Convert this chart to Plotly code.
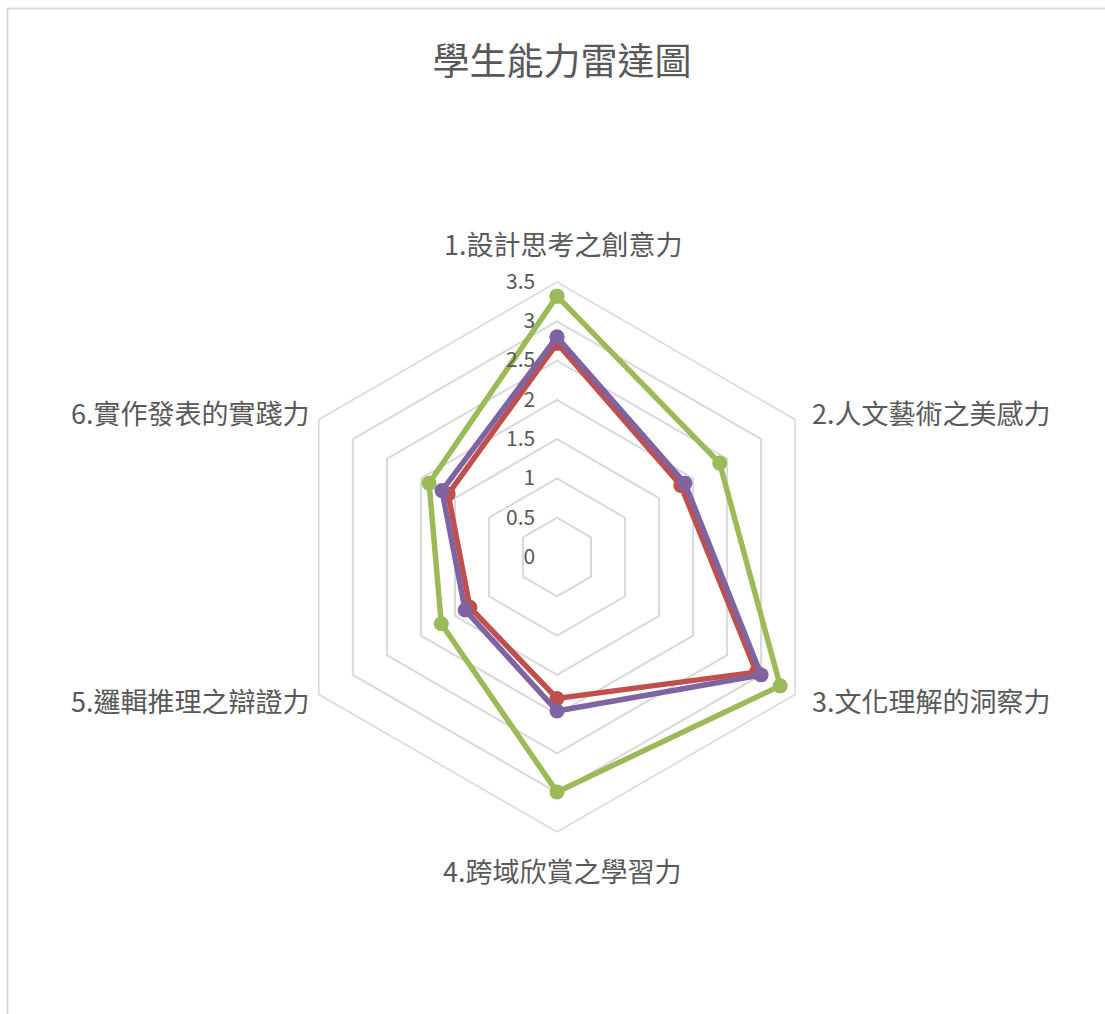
import plotly.graph_objects as go

categories = ["1.設計思考之創意力", "2.人文藝術之美感力", "3.文化理解的洞察力",
              "4.跨域欣賞之學習力", "5.邏輯推理之辯證力", "6.實作發表的實踐力"]
series_names = ["數列2", "數列3", "數列4"]
red_values = [2.72, 1.82, 2.93, 1.80, 1.28, 1.60]
green_values = [3.32, 2.39, 3.28, 2.99, 1.70, 1.88]
purple_values = [2.80, 1.88, 3.00, 1.96, 1.35, 1.69]
radial_ticks = [0, 0.5, 1, 1.5, 2, 2.5, 3, 3.5]

colors = ["#C0504D", "#9BBB59", "#8064A2"]
FONT = "Noto Sans CJK TC, Noto Sans CJK SC, sans-serif"
TXT = "#595959"

fig = go.Figure()
for name, vals, col in zip(series_names, [red_values, green_values, purple_values], colors):
    fig.add_trace(go.Scatterpolar(
        r=vals + vals[:1], theta=categories + categories[:1],
        mode="lines+markers", name=name,
        line=dict(color=col, width=5.5),
        marker=dict(color=col, size=15),
    ))

W, H = 1105, 1014
cx, cy, R = 557, 557, 275

# category label placement (pixel positions relative to the chart)
label_pos = [(563, 243, "center"), (810, 412, "left"), (810, 700, "left"),
             (562, 870, "center"), (312, 700, "right"), (312, 412, "right")]
annotations = []
for text, (px, py, anc) in zip(categories, label_pos):
    annotations.append(dict(text=text, x=px / W, y=1 - py / H, xref="paper", yref="paper",
                            xanchor=anc, yanchor="middle", showarrow=False,
                            font=dict(size=27, color=TXT, family=FONT)))

fig.update_layout(
    width=W, height=H,
    margin=dict(l=0, r=0, t=0, b=0),
    paper_bgcolor="white",
    showlegend=False,
    font=dict(family=FONT, color=TXT),
    title=dict(text="學生能力雷達圖", x=562 / W, xanchor="center",
               y=1 - 62 / H, yanchor="middle",
               font=dict(size=37, color=TXT, family=FONT)),
    polar=dict(
        domain=dict(x=[(cx - R) / W, (cx + R) / W], y=[1 - (cy + R) / H, 1 - (cy - R) / H]),
        gridshape="linear",
        bgcolor="white",
        radialaxis=dict(range=[0, 3.5], tickvals=radial_ticks,
                        ticktext=[f"{v:g}" for v in radial_ticks],
                        angle=90, tickangle=90, side="counterclockwise",
                        showline=False, ticks="outside", ticklen=14,
                        tickcolor="rgba(0,0,0,0)",
                        gridcolor="#D9D9D9", gridwidth=1.5,
                        tickfont=dict(size=21, color=TXT, family=FONT)),
        angularaxis=dict(direction="clockwise", rotation=90, showgrid=False,
                         linecolor="#D9D9D9", linewidth=1.5, ticks="",
                         showticklabels=False),
    ),
    annotations=annotations,
    shapes=[dict(type="rect", xref="paper", yref="paper",
                 x0=7.5 / W, x1=1.2, y0=-0.2, y1=1 - 8.5 / H,
                 line=dict(color="#D9D9D9", width=2), layer="below")],
)

fig.write_html("out.html")
